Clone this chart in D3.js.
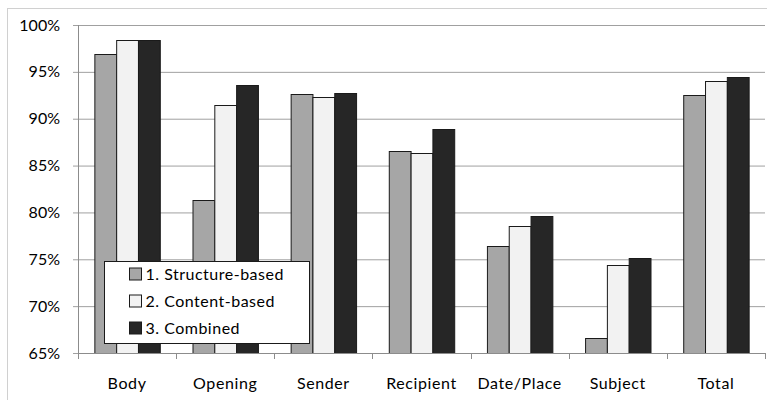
<!DOCTYPE html>
<html>
<head>
<meta charset="utf-8">
<script src="https://cdn.jsdelivr.net/npm/d3@7"></script>
<style>
  body { margin: 0; background: #fff; }
  text { font-family: Lato, "Open Sans", sans-serif; fill: #000; }
</style>
</head>
<body>
<script>
const categories = ['Body', 'Opening', 'Sender', 'Recipient', 'Date/Place', 'Subject', 'Total']
const seriesNames = ['1. Structure-based', '2. Content-based', '3. Combined']
const structureBased = [96.9, 81.3, 92.6, 86.6, 76.4, 66.6, 92.5]
const contentBased = [98.45, 91.45, 92.3, 86.35, 78.55, 74.35, 94.05]
const combined = [98.35, 93.6, 92.75, 88.85, 79.65, 75.15, 94.45]
const yTicks = [65, 70, 75, 80, 85, 90, 95, 100]

const colors = ['#a6a6a6', '#f2f2f2', '#262626']
const series = [structureBased, contentBased, combined]

const m = { width: 767, height: 400, left: 78, right: 765, top: 25, bottom: 353 }

const svg = d3.select('body').append('svg')
    .attr('width', m.width)
    .attr('height', m.height)

// outer chart border
svg.append('rect')
    .attr('x', 7.5).attr('y', 8.5)
    .attr('width', 800).attr('height', 500)
    .attr('fill', 'none')
    .attr('stroke', '#d0d0d0')
    .attr('stroke-width', 1)

const x0 = d3.scaleBand()
    .domain(categories)
    .range([m.left, m.right])
    .paddingInner(0).paddingOuter(0)

// three bars fill the middle two thirds of each category
const x1 = d3.scaleBand()
    .domain(d3.range(3))
    .range([0, x0.bandwidth()])
    .paddingOuter(0.75)
    .paddingInner(0)

const y = d3.scaleLinear()
    .domain([65, 100])
    .range([m.bottom, m.top])

// gridlines + left ticks
const yAxis = d3.axisLeft(y)
    .tickValues(yTicks)
    .tickSize(-(m.right - m.left))
    .tickSizeOuter(0)
    .tickPadding(18)
    .tickFormat(d => d + '%')

const gy = svg.append('g')
    .attr('transform', `translate(${m.left},0)`)
    .call(yAxis)
gy.select('.domain').remove()
gy.selectAll('.tick line')
    .attr('x1', -5)
    .attr('stroke', '#a0a0a0')
gy.selectAll('.tick text')
    .style('font-size', '16px')
    .attr('fill', '#000')

svg.append('line')
    .attr('x1', m.left + 0.5).attr('x2', m.left + 0.5)
    .attr('y1', m.top).attr('y2', m.bottom)
    .attr('stroke', '#8c8c8c')

// bars
const groups = svg.append('g').selectAll('g')
    .data(categories)
    .enter()
    .append('g')
    .attr('transform', d => `translate(${x0(d)},0)`)

groups.selectAll('rect')
    .data((d, i) => series.map((s, k) => ({ k: k, v: s[i] })))
    .enter()
    .append('rect')
    .attr('x', d => x1(d.k) + 0.5)
    .attr('y', d => Math.round(y(d.v)) + 0.5)
    .attr('width', x1.bandwidth())
    .attr('height', d => m.bottom - Math.round(y(d.v)))
    .attr('fill', d => colors[d.k])
    .attr('stroke', '#1a1a1a')
    .attr('stroke-width', 1)

// bottom axis
const boundaries = categories.map(c => x0(c)).concat([m.right])
svg.append('line')
    .attr('x1', m.left).attr('x2', m.right)
    .attr('y1', m.bottom + 0.5).attr('y2', m.bottom + 0.5)
    .attr('stroke', '#8c8c8c')
svg.append('g').selectAll('line')
    .data(boundaries)
    .enter()
    .append('line')
    .attr('x1', d => Math.round(d) + 0.5).attr('x2', d => Math.round(d) + 0.5)
    .attr('y1', m.bottom).attr('y2', m.bottom + 6)
    .attr('stroke', '#8c8c8c')

svg.append('g').selectAll('text')
    .data(categories)
    .enter()
    .append('text')
    .attr('x', d => x0(d) + x0.bandwidth() / 2)
    .attr('y', 389)
    .attr('text-anchor', 'middle')
    .style('font-size', '16px')
    .style('letter-spacing', '0.6px')
    .text(d => d)

// legend
const legend = svg.append('g').attr('transform', 'translate(104.5,261.5)')
legend.append('rect')
    .attr('width', 205).attr('height', 82)
    .attr('fill', '#fff')
    .attr('stroke', '#1a1a1a')

const items = legend.selectAll('.item')
    .data(seriesNames)
    .enter()
    .append('g')
    .attr('transform', (d, i) => `translate(25,${6.5 + i * 27})`)

items.append('rect')
    .attr('width', 12).attr('height', 12)
    .attr('fill', (d, i) => colors[i])
    .attr('stroke', '#1a1a1a')

items.append('text')
    .attr('x', 16)
    .attr('y', 12)
    .style('font-size', '16px')
    .style('letter-spacing', '0.5px')
    .text(d => d)
</script>
</body>
</html>
